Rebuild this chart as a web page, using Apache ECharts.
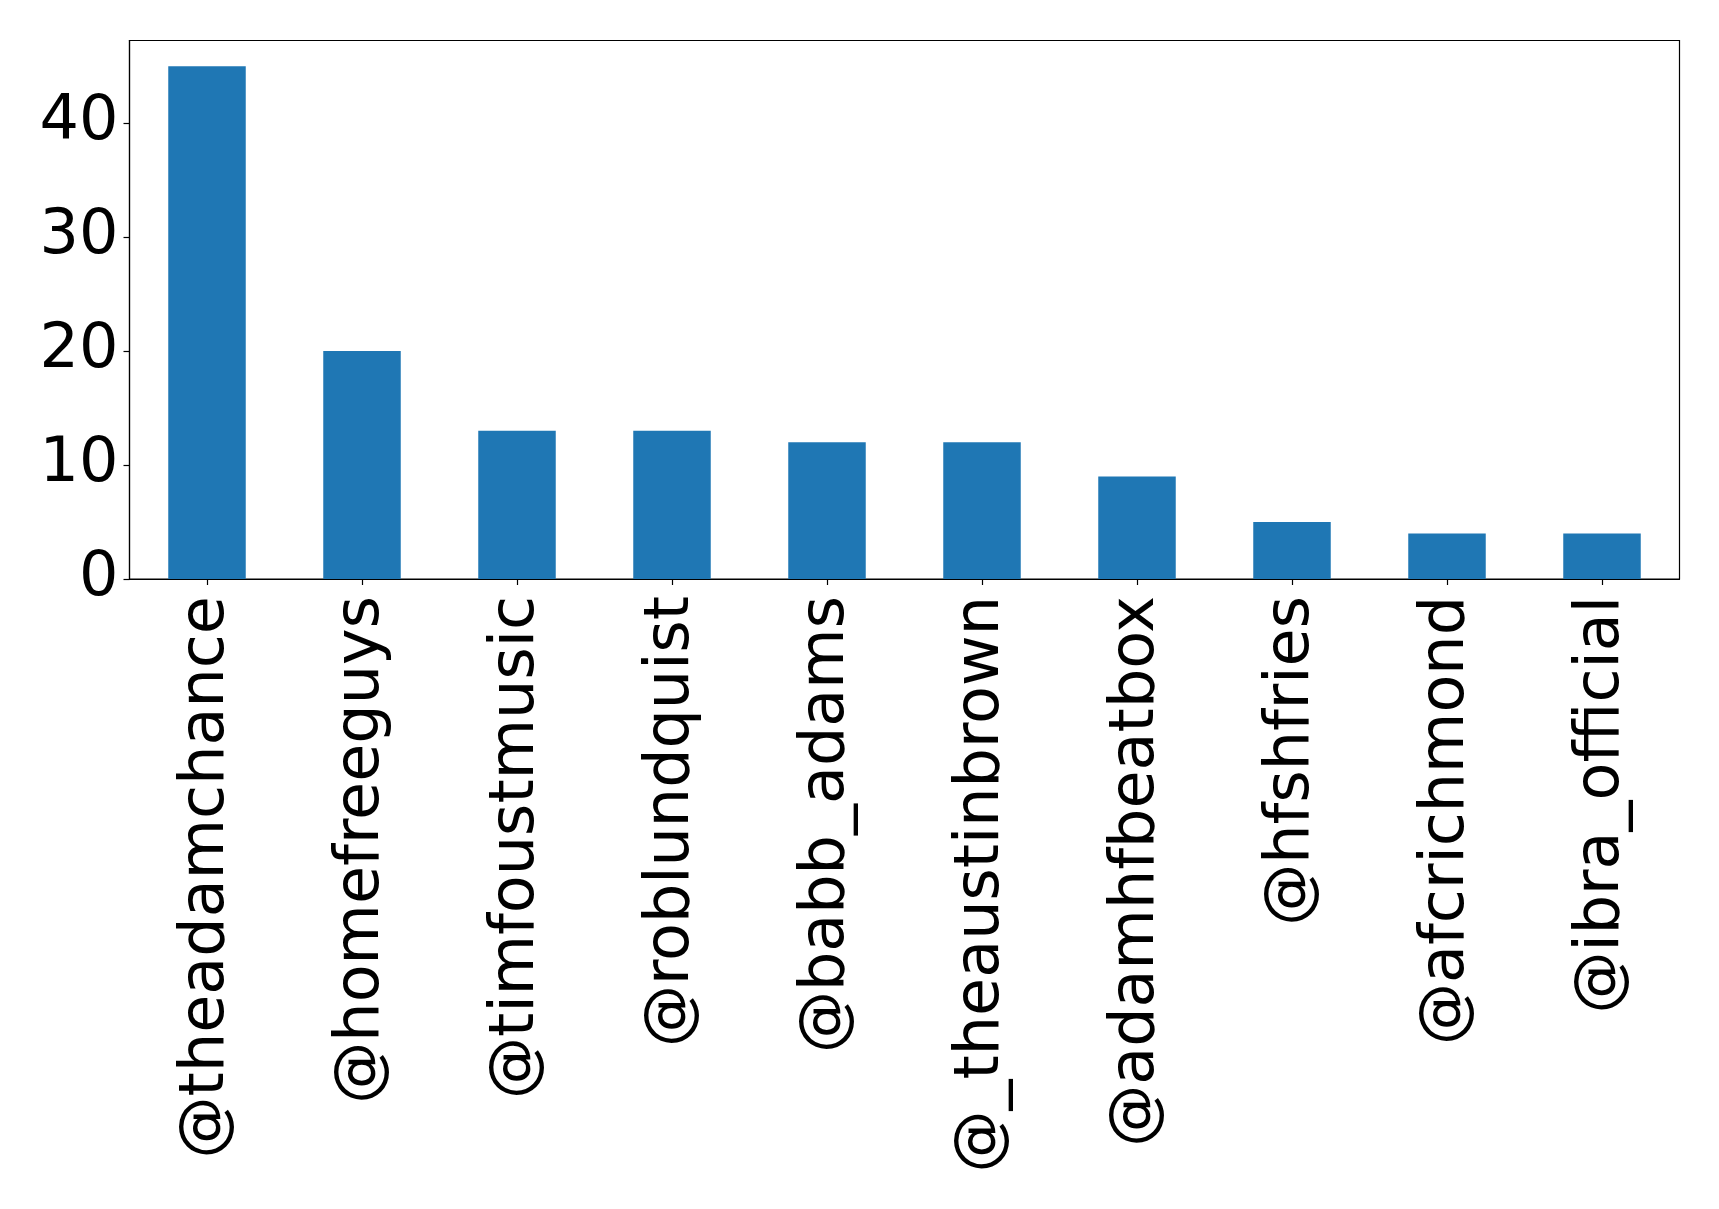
<!DOCTYPE html>
<html><head><meta charset="utf-8">
<script src="https://cdn.jsdelivr.net/npm/echarts@6/dist/echarts.min.js"></script>
<style>html,body{margin:0;padding:0;background:#fff}#c{width:1719px;height:1209px}</style>
</head><body><div id="c"></div>
<script>
const categories = ["@theadamchance","@homefreeguys","@timfoustmusic","@roblundquist","@babb_adams","@_theaustinbrown","@adamhfbeatbox","@hfshfries","@afcrichmond","@ibra_official"];
const counts = [45, 20, 13, 13, 12, 12, 9, 5, 4, 4];

const chart = echarts.init(document.getElementById('c'), null, {renderer:'canvas'});
const font = 'DejaVu Sans';
chart.setOption({
  animation: false,
  backgroundColor: '#fff',
  grid: {left: 129.5, top: 40.5, right: 39.5, bottom: 630, show: true, borderColor: '#000', borderWidth: 1.2, containLabel: false},
  xAxis: {
    type: 'category', data: categories,
    axisLine: {show: true, lineStyle: {color: '#000', width: 1.2}},
    axisTick: {show: true, alignWithLabel: true, length: 6, lineStyle: {color: '#000', width: 1.2}},
    axisLabel: {rotate: 90, interval: 0, margin: 17, color: '#000', fontSize: 62, fontFamily: font},
    splitLine: {show: false}
  },
  yAxis: {
    type: 'value', min: 0, max: 47.25, interval: 10,
    axisLine: {show: true, lineStyle: {color: '#000', width: 1.2}},
    axisTick: {show: true, length: 6, lineStyle: {color: '#000', width: 1.2}},
    axisLabel: {margin: 11, color: '#000', fontSize: 62, fontFamily: font, showMaxLabel: false},
    splitLine: {show: false}
  },
  series: [{
    type: 'bar', data: counts, barWidth: '50%',
    itemStyle: {color: '#1f77b4'}
  }]
});
</script></body></html>
